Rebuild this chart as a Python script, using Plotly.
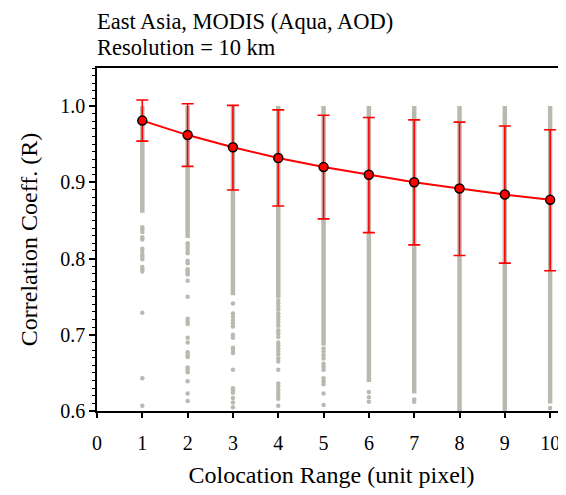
import plotly.graph_objects as go

ranges = [1, 2, 3, 4, 5, 6, 7, 8, 9, 10]
mean_r = [0.981, 0.962, 0.946, 0.932, 0.920, 0.910, 0.900, 0.892, 0.884, 0.877]
upper_r = [1.008, 1.003, 1.001, 0.995, 0.988, 0.985, 0.982, 0.979, 0.974, 0.969]
lower_r = [0.954, 0.921, 0.890, 0.869, 0.852, 0.834, 0.818, 0.804, 0.794, 0.784]

# dense part of each column of individual correlations
dense_top = [1.0, 1.0, 1.0, 1.0, 1.0, 1.0, 1.0, 1.0, 1.0, 1.0]
dense_bottom = [0.860, 0.827, 0.752, 0.748, 0.686, 0.638, 0.623, 0.600, 0.600, 0.610]

# sparse individual values below the dense part
sparse_1 = [0.841, 0.838, 0.835, 0.828, 0.825, 0.813, 0.810, 0.805, 0.802, 0.799,
            0.789, 0.786, 0.783, 0.729, 0.643, 0.607]
sparse_2 = [0.820, 0.817, 0.814, 0.810, 0.807, 0.797, 0.794, 0.786, 0.784, 0.781,
            0.779, 0.771, 0.750, 0.721, 0.717, 0.714, 0.696, 0.690, 0.677, 0.673,
            0.671, 0.657, 0.654, 0.651, 0.639, 0.623, 0.613]
sparse_3 = [0.741, 0.728, 0.724, 0.719, 0.715, 0.711, 0.700, 0.696, 0.683, 0.680,
            0.676, 0.654, 0.630, 0.627, 0.624, 0.617, 0.611, 0.605]
sparse_4 = [0.745, 0.741, 0.737, 0.733, 0.728, 0.724, 0.720, 0.716, 0.712, 0.706,
            0.702, 0.697, 0.690, 0.686, 0.682, 0.678, 0.674, 0.669, 0.665, 0.654,
            0.636, 0.632, 0.628, 0.624, 0.620, 0.616, 0.607]
sparse_5 = [0.682, 0.678, 0.673, 0.669, 0.662, 0.658, 0.654, 0.643, 0.639, 0.635,
            0.623, 0.608]
sparse_6 = [0.625, 0.618, 0.612]
sparse_7 = [0.615, 0.612]
sparse_8 = []
sparse_9 = []
sparse_10 = [0.604]
sparse_all = [sparse_1, sparse_2, sparse_3, sparse_4, sparse_5,
              sparse_6, sparse_7, sparse_8, sparse_9, sparse_10]

title_lines = ["East Asia, MODIS (Aqua, AOD)", "Resolution = 10 km"]
x_title = "Colocation Range (unit pixel)"
y_title = "Correlation Coeff. (R)"

GRAY = "#b9b9b0"
FONT = "Liberation Serif, Times New Roman, serif"

fig = go.Figure()

# dense column segments
seg_x, seg_y = [], []
for xv, t, b in zip(ranges, dense_top, dense_bottom):
    seg_x += [xv, xv, None]
    seg_y += [t, b, None]
fig.add_trace(go.Scatter(x=seg_x, y=seg_y, mode="lines",
                         line=dict(color=GRAY, width=4.5),
                         hoverinfo="skip", showlegend=False))

# sparse dots
dx, dy = [], []
for xv, vals in zip(ranges, sparse_all):
    dx += [xv] * len(vals)
    dy += vals
fig.add_trace(go.Scatter(x=dx, y=dy, mode="markers",
                         marker=dict(color=GRAY, size=4.5, line=dict(width=0)),
                         showlegend=False))

# mean with error bars
fig.add_trace(go.Scatter(
    x=ranges, y=mean_r, mode="lines+markers",
    line=dict(color="#ff0000", width=2),
    marker=dict(color="#ff0000", size=9, line=dict(color="black", width=1.5)),
    error_y=dict(type="data", symmetric=False,
                 array=[u - m for u, m in zip(upper_r, mean_r)],
                 arrayminus=[m - l for m, l in zip(mean_r, lower_r)],
                 color="#ff0000", thickness=1.6, width=6),
    showlegend=False))

# two-line title as annotations
for txt, shift in zip(title_lines, [47, 21]):
    fig.add_annotation(text=txt, xref="paper", yref="paper", x=0, y=1,
                       xanchor="left", yanchor="middle", yshift=shift, xshift=-2,
                       showarrow=False, font=dict(family=FONT, size=22.5, color="black"))

# page body has an 8px margin: plot area spans 97..566 x 68..411 on screen
fig.update_layout(
    width=566, height=495,
    margin=dict(l=89, r=8, t=60, b=92),
    paper_bgcolor="white", plot_bgcolor="white",
    font=dict(family=FONT, size=20, color="black"),
    xaxis=dict(range=[0, 10.35], dtick=1, tick0=0, showgrid=False, zeroline=False,
               automargin=False,
               showline=True, linecolor="black", linewidth=1.5, mirror=True,
               ticks="outside", ticklen=5, tickwidth=1.5, tickcolor="black",
               ticklabelstandoff=8,
               title=dict(text=x_title, standoff=13, font=dict(family=FONT, size=24, color="black")),
               tickfont=dict(family=FONT, size=20)),
    yaxis=dict(range=[0.6, 1.05], dtick=0.1, tick0=0.6, tickformat=".1f",
               showgrid=False, zeroline=False, automargin=False,
               showline=True, linecolor="black", linewidth=1.5,
               ticks="outside", ticklen=6, tickwidth=1.5, tickcolor="black",
               minor=dict(dtick=0.01, ticks="outside", ticklen=3, tickwidth=1,
                          tickcolor="black", showgrid=False),
               title=dict(text=y_title, standoff=16, font=dict(family=FONT, size=24, color="black")),
               tickfont=dict(family=FONT, size=20)),
)

fig.write_html("out.html")
